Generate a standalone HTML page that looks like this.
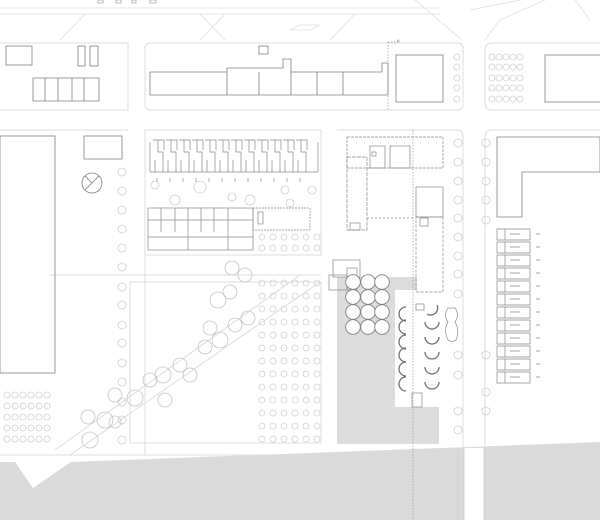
<!DOCTYPE html>
<html><head><meta charset="utf-8"><style>html,body{margin:0;padding:0;background:#fff}svg{display:block}</style></head>
<body>
<svg width="600" height="520" viewBox="0 0 600 520" xmlns="http://www.w3.org/2000/svg" font-family="Liberation Sans, sans-serif">
<rect width="600" height="520" fill="#fff"/>
<g fill="none" stroke="#e4e4e4" stroke-width="1">
<path d="M0 8 H440 M0 14 H440"/>
<path d="M60 40 L85 14 M200 40 L225 14 M225 40 L200 14 M330 40 L355 14 M415 0 L462 40"/>
<path d="M290 30 L300 25 H320 L310 30 Z"/>
<path d="M470 10 L520 0 M485 40 L500 20 L545 0 M575 0 L590 20"/>
</g>
<g fill="none" stroke="#aaa" stroke-width="0.8">
<rect x="98" y="0" width="5" height="3"/><rect x="116" y="0" width="5" height="3"/><rect x="132" y="0" width="4" height="3"/><rect x="150" y="0" width="6" height="3"/>
</g>
<g fill="none" stroke="#dcdcdc" stroke-width="1">
<path d="M0 43 H128 V110 H0"/>
<rect x="145" y="43" width="318" height="67" rx="5"/>
<path d="M600 43 H492 Q485 43 485 50 V103 Q485 110 492 110 H600"/>
<path d="M0 130 H128 M145 130 H321 V255 H145 Z"/>
<path d="M337 130 H456 Q463 130 463 137 V450"/>
<path d="M600 130 H492 Q485 130 485 137 V452"/>
<path d="M50 275 H321"/>
<rect x="130" y="282" width="191" height="161"/>
<path d="M0 455 H463"/>
<path d="M145 130 V455"/>
<path d="M55 450 L300 275 M70 455 L320 282"/>
</g>
<path d="M0 462 H15 L33 488 L71 462 L600 442 V520 H0 Z" fill="#dadada"/>
<rect x="464" y="448" width="20" height="72" fill="#fff"/>
<path d="M464 448 V520 M484 448 V520 M458 452 V520" stroke="#ccc" stroke-width="0.8"/>
<path d="M337 277 H417 V290 H395 V407 H439 V444 H337 Z" fill="#dcdcdc"/>
<path d="M388 42 V110 M413 130 V520" stroke="#999" stroke-width="0.7" stroke-dasharray="1.5 1.5" fill="none"/>
<path d="M388 42 H398" stroke="#999" stroke-width="0.7" stroke-dasharray="1.5 1.5"/>
<text x="397" y="42" font-size="4" fill="#555">A</text>
<g fill="none" stroke="#808080" stroke-width="0.8">
<rect x="6" y="46" width="26" height="19"/>
<rect x="78" y="46" width="7" height="20"/><rect x="90" y="46" width="8" height="20"/>
<path d="M33 78 H99 V101 H33 Z M45 78 V101 M58 78 V101 M72 78 V101 M84 78 V101"/>
<path d="M150 95 V72 H227 V68 H283 V59 H291 V72 H382 V63 H388 V95 Z M227 72 V95 M259 72 V95 M291 72 V95 M317 72 V95 M343 72 V95"/>
<rect x="259" y="46" width="9" height="8"/>
<rect x="396" y="55" width="47" height="47"/>
<rect x="545" y="55" width="60" height="47"/>
<rect x="0" y="136" width="55" height="237"/>
<rect x="84" y="136" width="38" height="23"/>
<circle cx="92" cy="183" r="10"/><path d="M85 190 L99 176 M92 183 L85 176"/>
<path d="M497 137 H600 V172 H522 V217 H497 Z"/>
</g>
<g fill="none" stroke="#cfcfcf" stroke-width="0.8">
<g id="c1"><circle cx="457" cy="57" r="3"/><circle cx="457" cy="67" r="3"/><circle cx="457" cy="78" r="3"/><circle cx="457" cy="88" r="3"/><circle cx="457" cy="99" r="3"/></g>
<use href="#c1" x="35"/><use href="#c1" x="42"/><use href="#c1" x="49"/><use href="#c1" x="56"/><use href="#c1" x="63"/>
<circle cx="122" cy="172" r="4"/><circle cx="122" cy="191" r="4"/><circle cx="122" cy="210" r="4"/><circle cx="122" cy="229" r="4"/><circle cx="122" cy="248" r="4"/><circle cx="122" cy="267" r="4"/><circle cx="122" cy="287" r="4"/><circle cx="122" cy="305" r="4"/><circle cx="122" cy="325" r="4"/><circle cx="122" cy="343" r="4"/><circle cx="122" cy="363" r="4"/><circle cx="122" cy="382" r="4"/><circle cx="122" cy="402" r="4"/><circle cx="122" cy="420" r="4"/><circle cx="122" cy="440" r="4"/>
<circle cx="458" cy="143" r="4"/><circle cx="458" cy="162" r="4"/><circle cx="458" cy="181" r="4"/><circle cx="458" cy="200" r="4"/><circle cx="458" cy="218" r="4"/><circle cx="458" cy="237" r="4"/><circle cx="458" cy="256" r="4"/><circle cx="458" cy="274" r="4"/><circle cx="458" cy="294" r="4"/><circle cx="458" cy="355" r="4"/><circle cx="458" cy="375" r="4"/><circle cx="458" cy="411" r="4"/><circle cx="458" cy="430" r="4"/>
<circle cx="486" cy="143" r="4"/><circle cx="486" cy="162" r="4"/><circle cx="486" cy="181" r="4"/><circle cx="486" cy="200" r="4"/><circle cx="486" cy="220" r="4"/><circle cx="486" cy="355" r="4"/><circle cx="486" cy="392" r="4"/><circle cx="486" cy="411" r="4"/>
<g id="g6"><circle cx="262" cy="283" r="3"/><circle cx="273" cy="283" r="3"/><circle cx="284" cy="283" r="3"/><circle cx="295" cy="283" r="3"/><circle cx="306" cy="283" r="3"/><circle cx="317" cy="283" r="3"/></g>
<use href="#g6" y="13"/><use href="#g6" y="26"/><use href="#g6" y="39"/><use href="#g6" y="52"/><use href="#g6" y="65"/><use href="#g6" y="78"/><use href="#g6" y="91"/><use href="#g6" y="104"/><use href="#g6" y="117"/><use href="#g6" y="130"/><use href="#g6" y="143"/><use href="#g6" y="156"/>
<g id="g5"><circle cx="7" cy="395" r="3"/><circle cx="15" cy="395" r="3"/><circle cx="23" cy="395" r="3"/><circle cx="31" cy="395" r="3"/><circle cx="39" cy="395" r="3"/><circle cx="47" cy="395" r="3"/></g>
<use href="#g5" y="11"/><use href="#g5" y="22"/><use href="#g5" y="33"/><use href="#g5" y="44"/>
<circle cx="262" cy="237" r="3"/><circle cx="273" cy="237" r="3"/><circle cx="284" cy="237" r="3"/><circle cx="295" cy="237" r="3"/><circle cx="306" cy="237" r="3"/><circle cx="317" cy="237" r="3"/>
<circle cx="262" cy="248" r="3"/><circle cx="273" cy="248" r="3"/><circle cx="284" cy="248" r="3"/><circle cx="295" cy="248" r="3"/><circle cx="306" cy="248" r="3"/><circle cx="317" cy="248" r="3"/>
<circle cx="155" cy="185" r="4"/><circle cx="200" cy="187" r="6"/><circle cx="232" cy="197" r="4"/><circle cx="175" cy="200" r="5"/><circle cx="250" cy="200" r="5"/><circle cx="285" cy="190" r="4"/><circle cx="312" cy="190" r="4"/><circle cx="290" cy="203" r="4"/>
<g stroke="#c4c4c4"><circle cx="90" cy="440" r="8"/><circle cx="105" cy="420" r="8"/><circle cx="88" cy="417" r="7"/><circle cx="115" cy="395" r="7"/><circle cx="135" cy="398" r="8"/><circle cx="150" cy="380" r="7"/><circle cx="163" cy="375" r="8"/><circle cx="180" cy="365" r="7"/><circle cx="190" cy="375" r="7"/><circle cx="165" cy="400" r="7"/><circle cx="205" cy="347" r="7"/><circle cx="220" cy="340" r="8"/><circle cx="210" cy="328" r="7"/><circle cx="235" cy="325" r="7"/><circle cx="248" cy="318" r="7"/><circle cx="218" cy="300" r="8"/><circle cx="230" cy="292" r="7"/><circle cx="245" cy="275" r="7"/><circle cx="232" cy="268" r="7"/><circle cx="115" cy="422" r="6"/></g>
</g>
<g fill="none" stroke="#888" stroke-width="0.7">
<path d="M150 142 V172 M318 142 V172 M150 172 H318"/>
<g id="ru"><path d="M153 140 H164 V150 M158 140 V152 H163 V160 M155 160 V172 M163 160 V172 M157 178 V182"/></g>
<use href="#ru" x="13"/><use href="#ru" x="26"/><use href="#ru" x="39"/><use href="#ru" x="52"/><use href="#ru" x="65"/><use href="#ru" x="78"/><use href="#ru" x="91"/><use href="#ru" x="104"/><use href="#ru" x="117"/><use href="#ru" x="130"/><use href="#ru" x="143"/>
<rect x="148" y="208" width="105" height="42"/>
<path d="M148 220 H253 M148 237 H253 M161 208 V220 M175 208 V220 M188 208 V250 M201 208 V220 M214 208 V220 M228 208 V250 M161 220 V232 M175 220 V232 M201 220 V232 M214 220 V232"/>
<rect x="253" y="208" width="57" height="22" stroke-dasharray="2 1"/>
<rect x="258" y="212" width="5" height="12"/>
<rect x="347" y="137" width="96" height="31" stroke-dasharray="3 1"/>
<rect x="370" y="146" width="15" height="22"/><rect x="390" y="146" width="20" height="22"/>
<rect x="372" y="152" width="4" height="4"/>
<rect x="347" y="157" width="20" height="73" stroke-dasharray="4 1"/>
<rect x="350" y="223" width="10" height="7"/>
<path d="M367 218 H415" stroke-dasharray="2 2"/>
<rect x="416" y="187" width="27" height="30"/>
<rect x="416" y="217" width="27" height="75" stroke-dasharray="3 1.5"/>
<rect x="420" y="218" width="8" height="8"/>
<rect x="333" y="260" width="27" height="17"/><rect x="329" y="275" width="18" height="15"/>
<rect x="347" y="268" width="10" height="22"/>
<rect x="412" y="393" width="10" height="14"/>
<rect x="416" y="304" width="8" height="6"/>
<g id="rh"><path d="M497 229 H530 V240 H497 Z M505 229 V240 M510 234 H520 M536 234 H540"/></g>
<use href="#rh" y="13"/><use href="#rh" y="26"/><use href="#rh" y="39"/><use href="#rh" y="52"/><use href="#rh" y="65"/><use href="#rh" y="78"/><use href="#rh" y="91"/><use href="#rh" y="104"/><use href="#rh" y="117"/><use href="#rh" y="130"/><use href="#rh" y="143"/>
</g>
<g fill="#fff" stroke="#808080" stroke-width="0.9">
<circle cx="353" cy="282" r="7.3"/><circle cx="368" cy="282" r="7.3"/><circle cx="382" cy="282" r="7.3"/>
<circle cx="353" cy="297" r="7.3"/><circle cx="368" cy="297" r="7.3"/><circle cx="382" cy="297" r="7.3"/>
<circle cx="353" cy="312" r="7.3"/><circle cx="368" cy="312" r="7.3"/><circle cx="382" cy="312" r="7.3"/>
<circle cx="353" cy="327" r="7.3"/><circle cx="368" cy="327" r="7.3"/><circle cx="382" cy="327" r="7.3"/>
</g>
<g fill="none" stroke="#707070" stroke-width="1.3">
<path d="M406 307 A7 7 0 0 0 406 321"/><path d="M406 320 A7 7 0 0 0 406 334"/><path d="M406 335 A7 7 0 0 0 406 349"/><path d="M406 348 A7 7 0 0 0 406 362"/><path d="M406 362 A7 7 0 0 0 406 376"/><path d="M406 377 A7 7 0 0 0 406 391"/>
<path d="M427 314 A7 7 0 0 0 437 305"/><path d="M425 322 A7 7 0 0 0 439 322"/><path d="M425 337 A7 7 0 0 0 439 337"/><path d="M425 352 A7 7 0 0 0 439 352"/><path d="M425 367 A7 7 0 0 0 439 367"/><path d="M425 382 A7 7 0 0 0 439 382"/>
</g>
<path d="M448 308 Q443 315 448 322 Q443 330 448 340 Q452 343 456 340 Q460 330 455 322 Q460 315 455 308 Z" fill="none" stroke="#999" stroke-width="0.8"/>
</svg>
</body></html>
